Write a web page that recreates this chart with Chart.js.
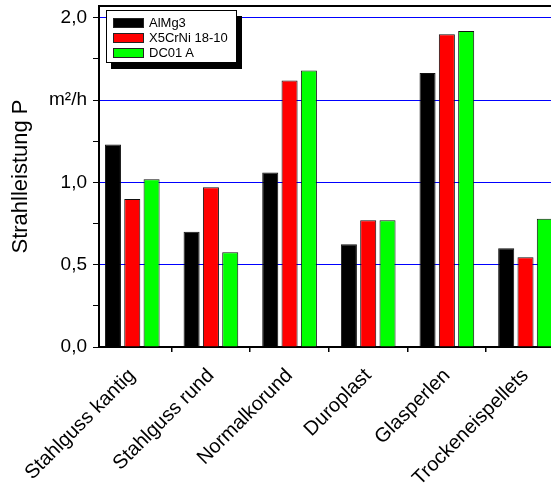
<!DOCTYPE html>
<html>
<head>
<meta charset="utf-8">
<script src="https://cdn.jsdelivr.net/npm/chart.js@4.4.1/dist/chart.umd.min.js"></script>
<style>
    html, body { margin: 0; padding: 0; background: #fff; overflow: hidden; }
    #rahmen { position: relative; width: 600px; height: 484px; }
    #legende {
        position: absolute; left: 106px; top: 10px; width: 129px; height: 47px;
        padding-top: 4px; border: 1px solid #000; background: #fff;
        box-shadow: 5px 6px 0 #000;
        font: 13px "Liberation Sans", Arial, sans-serif; color: #000;
    }
    .eintrag { height: 15px; display: flex; align-items: center; }
    .farbe { width: 31px; height: 10px; margin-left: 6px; margin-right: 5px; box-sizing: border-box; border: 1px solid #222; }
</style>
</head>
<body>
<div id="rahmen">
    <canvas id="grafikStrahl"></canvas>
    <div id="legende"></div>
</div>
<script>
const kategorien = ['Stahlguss kantig', 'Stahlguss rund', 'Normalkorund', 'Duroplast', 'Glasperlen', 'Trockeneispellets'];
const serienNamen = ['AlMg3', 'X5CrNi 18-10', 'DC01 A'];
const serienFarben = ['#000000', '#ff0000', '#00ff00'];
const werteAlMg3 = [1.23, 0.70, 1.06, 0.625, 1.665, 0.60];
const werteX5CrNi = [0.90, 0.97, 1.62, 0.77, 1.90, 0.545];
const werteDC01 = [1.02, 0.575, 1.68, 0.77, 1.92, 0.78];
const yTickWerte = [0, 0.25, 0.5, 0.75, 1.0, 1.25, 1.5, 1.75, 2.0];
const yTickTexte = { 0: '0,0', 0.5: '0,5', 1: '1,0', 1.5: 'm²/h', 2: '2,0' };

const schrift = '"Liberation Sans", Arial, sans-serif';
let grafik;

document.addEventListener("DOMContentLoaded", function () {
    const ctx = document.getElementById('grafikStrahl').getContext('2d');
    const alleWerte = [werteAlMg3, werteX5CrNi, werteDC01];
    // blaue Linien nur bei 0,5-Schritten
    const gitterFarben = yTickWerte.map(v => (v > 0 && Math.abs(v * 2 - Math.round(v * 2)) < 1e-9) ? '#0000ff' : 'rgba(0,0,0,0)');

    grafik = new Chart(ctx, {
        type: 'bar',
        data: {
            datasets: alleWerte.map((werte, s) => ({
                label: serienNamen[s],
                data: werte.map((v, i) => ({ x: i, y: v })),
                backgroundColor: serienFarben[s],
                borderColor: '#111',
                borderWidth: 1,
                categoryPercentage: 0.737,
                barPercentage: 0.83
            }))
        },
        options: {
            responsive: true,
            maintainAspectRatio: false,
            animation: false,
            layout: { padding: { left: 0, top: 0, right: 10, bottom: 0 } },
            plugins: { legend: { display: false }, tooltip: { enabled: false } },
            scales: {
                x: {
                    type: 'linear',
                    offset: false,
                    min: -0.423,
                    max: 5.82,
                    afterBuildTicks: s => { s.ticks = kategorien.map((k, i) => ({ value: i })); },
                    afterFit: s => { s.height = 137; s.paddingLeft = 0; s.paddingRight = 0; },
                    grid: { offset: true, drawOnChartArea: false, tickLength: 5, color: '#000', lineWidth: 1.5 },
                    border: { color: '#000', width: 2 },
                    ticks: {
                        autoSkip: false, minRotation: 45, maxRotation: 45, padding: 12, color: '#000',
                        font: { family: schrift, size: 20 },
                        callback: v => kategorien[v] ?? ''
                    }
                },
                oben: {
                    type: 'linear', position: 'top', min: 0, max: 1,
                    afterFit: s => { s.height = 6; s.paddingLeft = 0; s.paddingRight = 0; },
                    grid: { drawOnChartArea: false, drawTicks: false },
                    border: { color: '#000', width: 2 },
                    ticks: { display: false }
                },
                y: {
                    min: 0,
                    max: 2.072,
                    afterBuildTicks: s => { s.ticks = yTickWerte.map(v => ({ value: v })); },
                    afterFit: s => { s.width = 99; s.paddingTop = 0; s.paddingBottom = 0; },
                    grid: {
                        color: gitterFarben,
                        tickColor: '#000',
                        tickLength: 6,
                        lineWidth: 1
                    },
                    border: { color: '#000', width: 2 },
                    ticks: {
                        autoSkip: false, padding: 6, color: '#000',
                        font: { family: schrift, size: 19 },
                        callback: v => yTickTexte[v] ?? ''
                    },
                    title: {
                        display: true, text: 'Strahlleistung P', color: '#000',
                        font: { family: schrift, size: 22 },
                        padding: { top: 8, bottom: 0 }
                    }
                }
            }
        }
    });

    const legende = document.getElementById('legende');
    serienNamen.forEach((name, s) => {
        const zeile = document.createElement('div');
        zeile.className = 'eintrag';
        const feld = document.createElement('span');
        feld.className = 'farbe';
        feld.style.background = serienFarben[s];
        zeile.appendChild(feld);
        zeile.appendChild(document.createTextNode(name));
        legende.appendChild(zeile);
    });
});
</script>
</body>
</html>
